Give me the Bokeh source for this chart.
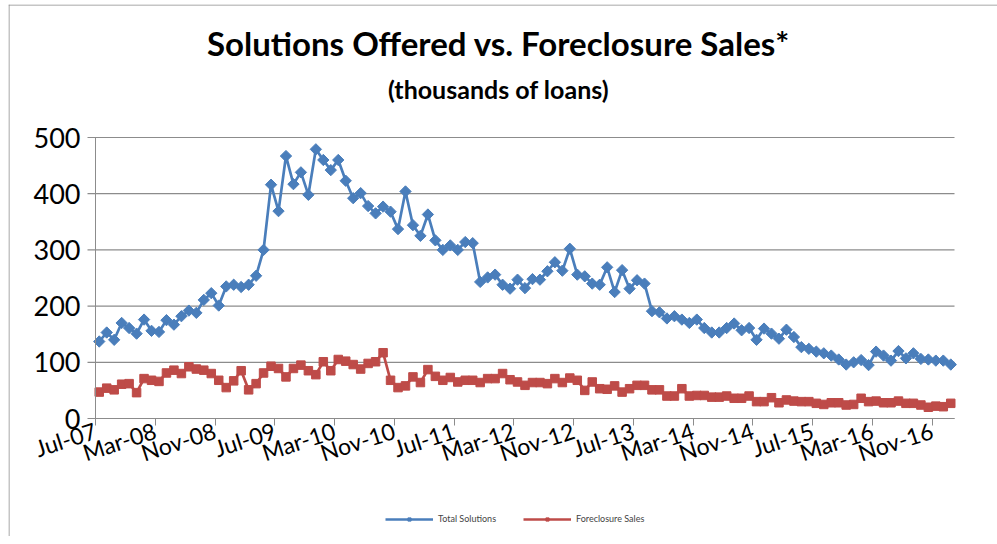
import math
from bokeh.plotting import figure
from bokeh.models import Label, Legend, LegendItem, FixedTicker, Range1d, Span
from bokeh.embed import file_html
from bokeh.resources import INLINE

tick_labels = ["Jul-07", "Mar-08", "Nov-08", "Jul-09", "Mar-10", "Nov-10", "Jul-11",
               "Mar-12", "Nov-12", "Jul-13", "Mar-14", "Nov-14", "Jul-15", "Mar-16", "Nov-16"]
y_ticks = [0, 100, 200, 300, 400, 500]

total_solutions = [
    137, 153, 140, 170, 161, 151, 176, 156, 154, 175, 167, 182, 192, 188, 211, 223, 201, 235, 238,
    234, 238, 254, 300, 416, 369, 467, 417, 438, 398, 479, 460, 442, 460, 423, 392, 401, 378, 365, 377,
    368, 337, 404, 344, 325, 363, 317, 300, 308, 300, 314, 312, 243, 251, 256, 238, 231, 247, 232,
    248, 247, 262, 278, 263, 302, 256, 253, 240, 238, 269, 225, 264, 231, 246, 240, 191, 189, 178,
    182, 176, 170, 176, 161, 153, 153, 161, 169, 157, 161, 140, 160, 151, 142, 158, 145, 127, 124,
    119, 116, 112, 105, 96, 100, 104, 95, 119, 112, 103, 120, 107, 116, 106, 105, 103, 103, 96,
]

foreclosure_sales = [
    47, 54, 51, 61, 62, 46, 71, 68, 66, 81, 86, 80, 92, 88, 86, 80, 68, 55, 67,
    85, 51, 62, 81, 93, 89, 74, 89, 95, 85, 78, 101, 85, 105, 102, 96, 88, 98, 101, 117,
    68, 55, 58, 74, 64, 87, 75, 68, 73, 65, 68, 68, 64, 71, 71, 80, 69, 65, 59,
    64, 64, 62, 71, 64, 72, 68, 50, 65, 53, 52, 58, 47, 53, 59, 59, 51, 51, 40,
    40, 53, 40, 41, 41, 38, 38, 40, 36, 36, 40, 30, 30, 37, 28, 33, 31, 30, 30,
    27, 25, 28, 28, 24, 25, 36, 30, 31, 28, 28, 31, 27, 27, 24, 20, 22, 21, 27,
]

n = len(total_solutions)
xs = [i + 0.5 for i in range(n)]
tick_pos = [i * 8 for i in range(len(tick_labels))]

BLUE = "#4a7ebb"
RED = "#be4b48"
GRID = "#8c8c8c"

# ---- layout geometry (pixels) ----
W, H = 997, 536
FL, FT = 8, 4                      # chart-area left / top
AX_L, AX_R = 95, 954               # plot-area left/right
AX_T, AX_B = 137, 418              # plot-area top/bottom
sx = (AX_R - AX_L) / n             # px per month
sy = (AX_B - AX_T) / 500.0         # px per thousand
x0 = -(AX_L - FL) / sx
x1 = n + (W - AX_R) / sx
y1 = 500 + (AX_T - FT) / sy
y0 = -(H - AX_B) / sy

p = figure(width=W, height=H, output_backend="svg", toolbar_location=None, title=None,
           x_range=Range1d(x0, x1), y_range=Range1d(y0, y1),
           min_border_left=FL, min_border_right=0, min_border_top=FT, min_border_bottom=0)
p.outline_line_color = None
p.background_fill_color = "white"
p.border_fill_color = "white"
p.xgrid.visible = False
p.ygrid.visible = False

# chart-area border (left and top)
p.add_layout(Span(location=x0 + 0.5 / sx, dimension="height", line_color=GRID, line_width=1))
p.add_layout(Span(location=y1 - 0.5 / sy, dimension="width", line_color=GRID, line_width=1))

# horizontal gridlines (extend 8px left of the axis as tick marks)
p.segment(x0=[-8 / sx] * len(y_ticks), y0=y_ticks, x1=[n] * len(y_ticks), y1=y_ticks,
          line_color=GRID, line_width=1.2)

# y axis
p.yaxis.fixed_location = 0
p.yaxis.bounds = (0, 500)
p.yaxis.ticker = FixedTicker(ticks=y_ticks)
p.yaxis.axis_line_color = GRID
p.yaxis.major_tick_line_color = None
p.yaxis.major_tick_out = 8
p.yaxis.major_tick_in = 0
p.yaxis.minor_tick_line_color = None
p.yaxis.major_label_standoff = 7
p.yaxis.major_label_text_font = "Lato"
p.yaxis.major_label_text_font_size = "27px"
p.yaxis.major_label_text_color = "black"

# x axis
p.xaxis.fixed_location = 0
p.xaxis.bounds = (0, n)
p.xaxis.ticker = FixedTicker(ticks=tick_pos)
p.xaxis.major_label_overrides = {t: lab for t, lab in zip(tick_pos, tick_labels)}
p.xaxis.axis_line_color = GRID
p.xaxis.major_tick_line_color = GRID
p.xaxis.major_tick_out = 7
p.xaxis.major_tick_in = 0
p.xaxis.minor_tick_line_color = None
p.xaxis.major_label_orientation = math.radians(18)
p.xaxis.major_label_standoff = 4
p.xaxis.major_label_text_font = "Lato"
p.xaxis.major_label_text_font_size = "23px"
p.xaxis.major_label_text_color = "black"

l1 = p.line(xs, total_solutions, line_color=BLUE, line_width=2.7)
s1 = p.scatter(xs, total_solutions, marker="square", angle=math.pi / 4, size=8,
               fill_color=BLUE, line_color=BLUE)
l2 = p.line(xs, foreclosure_sales, line_color=RED, line_width=2.7)
s2 = p.scatter(xs, foreclosure_sales, marker="square", size=8.5,
               fill_color=RED, line_color=RED)

# titles
cx = (498 - AX_L) / sx
p.add_layout(Label(x=cx, y=500 + (AX_T - 42) / sy, text="Solutions Offered vs. Foreclosure Sales*",
                   text_align="center", text_baseline="middle", text_font="Lato",
                   text_font_style="bold", text_font_size="33px", text_color="black"))
p.add_layout(Label(x=cx, y=500 + (AX_T - 88) / sy, text="(thousands of loans)",
                   text_align="center", text_baseline="middle", text_font="Lato",
                   text_font_style="bold", text_font_size="25px", text_color="black"))

legend = Legend(items=[LegendItem(label="Total Solutions", renderers=[l1, s1]),
                       LegendItem(label="Foreclosure Sales", renderers=[l2, s2])],
                location=(385 - FL, H - 524), orientation="horizontal",
                label_text_font="Lato", label_text_font_size="9px",
                glyph_width=48, glyph_height=8, label_standoff=5, spacing=27,
                padding=0, margin=0, border_line_color=None, background_fill_alpha=0,
                label_height=8)
p.add_layout(legend)

open("out.html", "w").write(file_html(p, INLINE))
